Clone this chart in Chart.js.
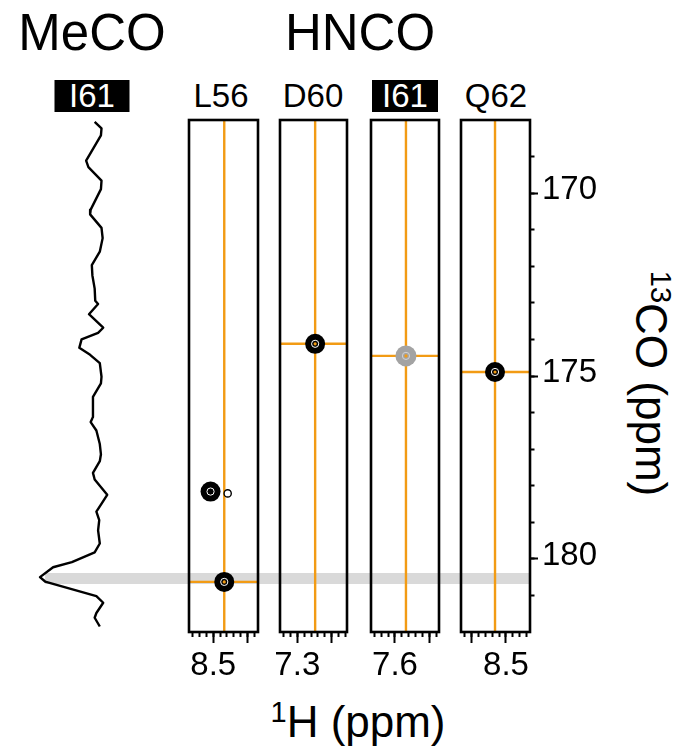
<!DOCTYPE html>
<html>
<head>
<meta charset="utf-8">
<title>MeCO / HNCO strips</title>
<script src="https://cdn.jsdelivr.net/npm/chart.js@4.4.1/dist/chart.umd.min.js"></script>
<style>
  body { margin: 0; background: #fff; }
  #fig { position: relative; width: 684px; height: 752px; overflow: hidden;
         font-family: "Liberation Sans", Arial, sans-serif; color: #000; }
  #fig canvas { position: absolute; }
  .t { position: absolute; transform: translateX(-50%); white-space: nowrap; }
  .big { font-size: 51px; line-height: 51px; top: 7px; }
  .res { font-size: 33px; line-height: 32px; top: 80px; height: 32px; }
  .box { background: #000; color: #fff; text-align: center; }
  .axis { font-size: 44px; line-height: 44px; }
  .sup { font-size: 0.66em; position: relative; top: -0.5em; }
</style>
</head>
<body>
<div id="fig">
  <div class="t big" style="left:92px">MeCO</div>
  <div class="t big" style="left:360px">HNCO</div>
  <div class="t res box" style="left:92px;width:75px">I61</div>
  <div class="t res" style="left:221px">L56</div>
  <div class="t res" style="left:313px">D60</div>
  <div class="t res box" style="left:405px;width:66px">I61</div>
  <div class="t res" style="left:496px">Q62</div>
  <div class="t axis" style="left:358px;top:700px"><span class="sup">1</span>H (ppm)</div>
  <div class="t axis" style="left:648px;top:359px;transform:translateX(-50%) rotate(90deg)"><span class="sup">13</span>CO (ppm)</div>
</div>
<script>
const family = '"Liberation Sans", Arial, sans-serif';
Chart.defaults.font.family = family;
Chart.defaults.color = '#000';

// 13CO axis shared by the 1D trace and all strips (ppm)
const coRange = [168, 182];
const coMajorTicks = [170, 175, 180];

// MeCO 1D trace (I61): 13CO shift and normalised intensity
const mecoPpm = [168.05, 168.23, 168.42, 169.11, 169.29, 169.66, 169.89, 170.45, 170.58, 170.95,
  171.23, 171.60, 171.97, 172.25, 172.61, 172.94, 173.03, 173.31, 173.68, 173.82,
  174.00, 174.23, 174.42, 174.65, 175.02, 175.20, 175.57, 176.12, 176.26, 176.49,
  176.86, 177.14, 177.33, 177.65, 177.83, 178.25, 178.52, 178.71, 178.94, 179.22,
  179.58, 179.82, 180.09, 180.23, 180.50, 180.62, 181.02, 181.20, 181.48, 181.61, 181.85];
const mecoIntensity = [0.04, -0.08, -0.07, 0.19, 0.15, -0.08, -0.07, 0.11, 0.12, -0.08,
  -0.10, -0.05, 0.09, 0.08, 0.04, 0.03, -0.02, 0.14, -0.11, -0.02,
  0.27, 0.31, 0.12, -0.05, -0.08, -0.07, 0.07, 0.07, 0.11, 0.01,
  -0.05, -0.07, -0.05, 0.07, 0.04, -0.18, -0.07, 0.01, -0.04, -0.02,
  -0.05, 0.04, 0.44, 0.77, 1.00, 0.91, 0.01, -0.11, 0.01, 0.04, -0.05];
const intensityRange = [-7.6, 1.175];
const highlightCO = 180.54;   // grey band
const highlightFrom = 0.91;

// HNCO strips
const strips = ['L56', 'D60', 'I61', 'Q62'];
const stripH = [8.42, 7.17, 7.52, 8.58];            // amide 1H (orange vertical)
const stripCO = [180.63, 174.12, 174.45, 174.89];    // 13CO (orange horizontal)
const stripHRange = [[8.174, 8.677], [6.938, 7.426], [7.279, 7.775], [8.325, 8.828]];
const hMajorTicks = [[8.5, 8.25], [7.3, 7.05], [7.6, 7.35], [8.75, 8.5]];
const hTickLabels = [8.5, 7.3, 7.6, 8.5];
const greyStrip = 2;
// other peaks in the L56 strip
const extraH = [8.52];
const extraCO = [178.16];
const weakH = [8.395];
const weakCO = [178.21];

// layout of the strips on the page
const panelLeft = [189, 280, 371, 461];
const panelWidth = [69, 67, 68, 69];
const orange = '#f29b14';

function stepTicks(lo, hi, step) {
  const out = [];
  for (let k = Math.ceil(lo / step - 1e-6); k * step <= hi + 1e-6; k++) {
    const v = +(k * step).toFixed(4);
    if (v > lo + 1e-6 && v < hi - 1e-6) out.push({value: v});
  }
  return out;
}

// keep the plot area where the layout padding puts it
function fixSize(w, h) {
  return s => {
    if (w !== undefined) s.width = w;
    if (h !== undefined) s.height = h;
    s.paddingLeft = s.paddingRight = s.paddingTop = s.paddingBottom = 0;
  };
}

const frame = {
  id: 'frame',
  afterDraw(chart) {
    const {ctx, chartArea: a} = chart;
    ctx.save();
    ctx.lineWidth = 2.6;
    ctx.strokeStyle = '#000';
    ctx.strokeRect(a.left, a.top, a.right - a.left, a.bottom - a.top);
    ctx.restore();
  }
};

function addCanvas(left, width) {
  const c = document.createElement('canvas');
  c.width = width;
  c.height = 586;
  c.style.left = left + 'px';
  c.style.top = '116px';
  document.getElementById('fig').appendChild(c);
  return c;
}

const base = {
  responsive: false,
  animation: false,
  events: [],
  plugins: {legend: {display: false}, tooltip: {enabled: false}}
};

// MeCO trace + highlight band
new Chart(addCanvas(0, 684), {
  type: 'scatter',
  data: {
    datasets: [
      {
        data: mecoPpm.map((p, i) => ({x: mecoIntensity[i], y: p})),
        showLine: true, borderColor: '#000', borderWidth: 2.4, pointRadius: 0,
        borderJoinStyle: 'round', order: 0
      },
      {
        data: [{x: highlightFrom, y: highlightCO}, {x: intensityRange[0], y: highlightCO}],
        showLine: true, borderColor: '#d9d9d9', borderWidth: 11, pointRadius: 0, order: 1
      }
    ]
  },
  options: {
    ...base,
    layout: {autoPadding: false, padding: {left: 30, right: 154, top: 4, bottom: 70}},
    scales: {
      x: {display: false, bounds: 'data', reverse: true, min: intensityRange[0], max: intensityRange[1],
          afterFit: fixSize()},
      y: {display: false, bounds: 'data', reverse: true, min: coRange[0], max: coRange[1],
          afterFit: fixSize()}
    }
  }
});

// HNCO strips
strips.forEach((name, i) => {
  const last = i === strips.length - 1;
  const [hLo, hHi] = stripHRange[i];
  const grey = i === greyStrip;
  const peaks = [{x: stripH[i], y: stripCO[i]}];
  const centres = [orange];
  if (i === 0) {
    extraH.forEach((h, k) => { peaks.push({x: h, y: extraCO[k]}); centres.push('#000'); });
  }
  const datasets = [
    {
      data: [{x: stripH[i], y: coRange[0]}, {x: stripH[i], y: coRange[1]}],
      showLine: true, borderColor: orange, borderWidth: 2.4, pointRadius: 0, order: 6
    },
    {
      data: [{x: hHi, y: stripCO[i]}, {x: hLo, y: stripCO[i]}],
      showLine: true, borderColor: orange, borderWidth: 2.4, pointRadius: 0, order: 5
    },
    {
      data: peaks, pointRadius: grey ? 10.5 : 10, pointBorderWidth: 0,
      backgroundColor: grey ? '#a3a3a3' : '#000', order: 3
    },
    {
      data: peaks, pointRadius: 3.6, pointBorderWidth: 1,
      backgroundColor: 'rgba(0,0,0,0)', borderColor: grey ? '#d4d4d4' : '#fff', order: 2
    },
    {
      data: peaks, pointRadius: 1.6, pointBorderWidth: 0,
      backgroundColor: centres, order: 1
    }
  ];
  if (i === 0) {
    datasets.push({
      data: weakH.map((h, k) => ({x: h, y: weakCO[k]})),
      pointRadius: 3.6, pointBorderWidth: 1.4, backgroundColor: '#fff', borderColor: '#000', order: 0
    });
  }

  const tickGrid = (len) => ({drawOnChartArea: false, tickLength: len, tickWidth: 2, tickColor: '#000'});
  const scales = {
    xMinor: {
      type: 'linear', position: 'bottom', weight: 0, bounds: 'data', reverse: true, min: hLo, max: hHi,
      afterBuildTicks: s => { s.ticks = stepTicks(hLo, hHi, 0.05); },
      afterFit: fixSize(undefined, 0),
      border: {display: false}, grid: tickGrid(5),
      ticks: {display: false, autoSkip: false}
    },
    x: {
      type: 'linear', position: 'bottom', weight: 1, bounds: 'data', reverse: true, min: hLo, max: hHi,
      afterBuildTicks: s => { s.ticks = hMajorTicks[i].map(v => ({value: v})); },
      afterFit: fixSize(undefined, 70),
      border: {display: false}, grid: tickGrid(11),
      ticks: {
        autoSkip: false, maxRotation: 0, minRotation: 0, padding: 3, font: {size: 33},
        callback: v => (v === hTickLabels[i] ? v.toFixed(1) : '')
      }
    },
    yMinor: {
      type: 'linear', display: last, position: 'right', weight: 0, bounds: 'data', reverse: true,
      min: coRange[0], max: coRange[1],
      afterBuildTicks: s => { s.ticks = stepTicks(coRange[0], coRange[1], 1); },
      afterFit: last ? fixSize(0) : fixSize(),
      border: {display: false}, grid: tickGrid(4.5),
      ticks: {display: false, autoSkip: false}
    },
    y: {
      type: 'linear', display: last, position: 'right', weight: 1, bounds: 'data', reverse: true,
      min: coRange[0], max: coRange[1],
      afterBuildTicks: s => { s.ticks = coMajorTicks.map(v => ({value: v})); },
      afterFit: last ? fixSize(141) : fixSize(),
      border: {display: false}, grid: tickGrid(8),
      ticks: {autoSkip: false, padding: 4, labelOffset: -3, font: {size: 33}, callback: v => String(v)}
    }
  };

  const canvasWidth = last ? 684 - (panelLeft[i] - 4) : panelWidth[i] + 8;
  new Chart(addCanvas(panelLeft[i] - 4, canvasWidth), {
    type: 'scatter',
    data: {datasets},
    options: {
      ...base,
      layout: {autoPadding: false, padding: {left: 4, right: last ? 13 : 4, top: 4, bottom: 0}},
      scales
    },
    plugins: [frame]
  });
});
</script>
</body>
</html>
